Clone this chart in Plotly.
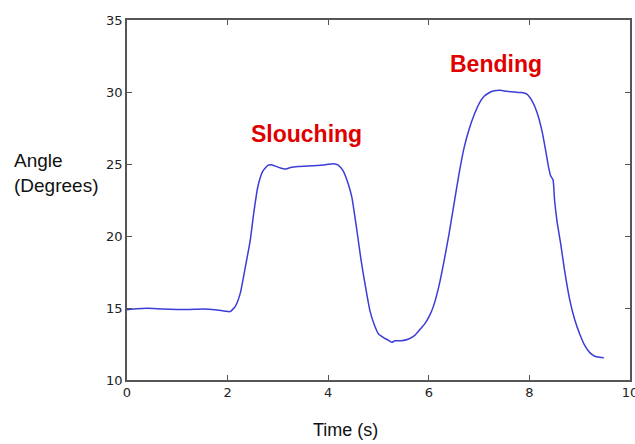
import plotly.graph_objects as go

time_s = [0.0, 0.2, 0.4, 0.7, 1.0, 1.25, 1.5, 1.75, 1.95, 2.05, 2.15, 2.25, 2.35, 2.45, 2.52,
          2.6, 2.7, 2.8, 2.86, 2.95, 3.05, 3.14, 3.25, 3.4, 3.7, 3.95, 4.1, 4.2, 4.3, 4.4,
          4.47, 4.57, 4.65, 4.72, 4.83, 4.92, 5.0, 5.1, 5.2, 5.26, 5.33, 5.45, 5.6, 5.72,
          5.82, 5.92, 6.02, 6.1, 6.2, 6.3, 6.4, 6.5, 6.6, 6.7, 6.8, 6.9, 7.0, 7.1, 7.2,
          7.3, 7.42, 7.55, 7.7, 7.85, 7.95, 8.05, 8.15, 8.25, 8.32, 8.38, 8.42, 8.47, 8.5,
          8.55, 8.62, 8.7, 8.8, 8.9, 9.0, 9.1, 9.2, 9.3, 9.4, 9.48]
angle_deg = [14.88, 14.95, 14.98, 14.93, 14.9, 14.9, 14.93, 14.88, 14.78, 14.75, 15.1, 16.0,
             17.8, 19.7, 21.6, 23.4, 24.5, 24.9, 24.95, 24.85, 24.72, 24.65, 24.75, 24.82,
             24.88, 24.95, 25.02, 24.93, 24.5, 23.6, 22.7, 20.4, 18.4, 16.9, 14.8, 13.8,
             13.2, 12.95, 12.75, 12.62, 12.72, 12.72, 12.85, 13.1, 13.5, 13.9, 14.5, 15.2,
             16.5, 18.2, 20.1, 22.2, 24.3, 26.1, 27.4, 28.4, 29.2, 29.7, 29.95, 30.08,
             30.12, 30.05, 30.0, 29.96, 29.85, 29.4, 28.6, 27.3, 26.0, 24.8, 24.2, 23.9,
             22.5, 21.0, 19.5, 17.6, 15.6, 14.2, 13.2, 12.4, 11.9, 11.65, 11.58, 11.55]

x_ticks = [0, 2, 4, 6, 8, 10]
y_ticks = [10, 15, 20, 25, 30, 35]

labels = ["Slouching", "Bending"]
label_x = [3.56, 7.34]
label_y = [27.08, 31.94]

fig = go.Figure()
fig.add_trace(go.Scatter(x=time_s, y=angle_deg, mode="lines",
                         line=dict(color="rgb(60,60,215)", width=1.5, shape="spline", smoothing=0.5),
                         showlegend=False, hoverinfo="skip"))

for t, lx, ly in zip(labels, label_x, label_y):
    fig.add_annotation(x=lx, y=ly, text="<b>%s</b>" % t, showarrow=False,
                       font=dict(family="Liberation Sans, Arial", size=23, color="#e00000"))

axis_common = dict(showline=True, linecolor="#555", linewidth=1.5, mirror="ticks",
                   ticks="inside", ticklen=5, tickcolor="#555", showgrid=False, zeroline=False,
                   ticklabeloverflow="allow", automargin=False,
                   tickfont=dict(family="DejaVu Sans", size=13, color="#222"))

fig.update_xaxes(range=[0, 10], tickvals=x_ticks, **axis_common)
fig.update_yaxes(range=[10, 35], tickvals=y_ticks, **axis_common)

fig.add_annotation(xref="paper", yref="paper", x=-0.228, y=0.575, xanchor="left", yanchor="middle",
                   text="Angle<br>(Degrees)", showarrow=False, align="left",
                   font=dict(family="Liberation Sans, Arial", size=19, color="#111"))
fig.add_annotation(xref="paper", yref="paper", x=0.434, y=-0.14, xanchor="center", yanchor="middle",
                   text="Time (s)", showarrow=False,
                   font=dict(family="Liberation Sans, Arial", size=18, color="#111"))

fig.update_layout(width=635, height=444, margin=dict(l=127, r=5, t=20, b=64, autoexpand=False),
                  plot_bgcolor="white", paper_bgcolor="white")

fig.write_html("out.html", config={"displayModeBar": False},
               post_script="document.body.style.margin='0';document.body.style.overflow='hidden';")
